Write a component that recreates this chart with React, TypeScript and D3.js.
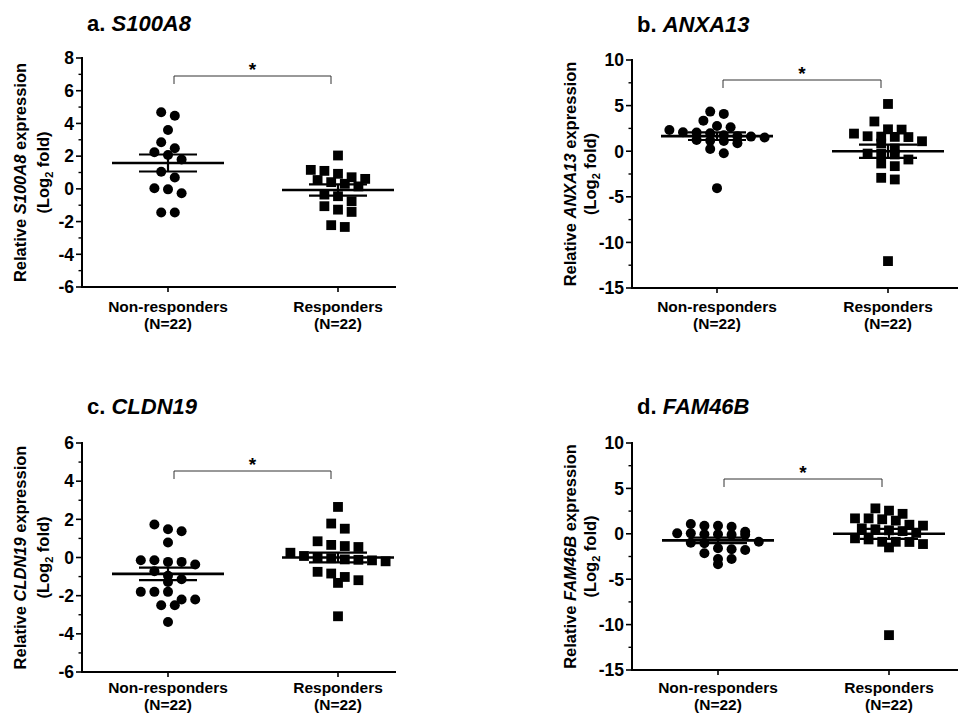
import React from 'react'
import * as d3 from 'd3'

// groups on the x axis
const groups = ['Non-responders', 'Responders']
const groupN = ['(N=22)', '(N=22)']

// per-sample log2 fold values
const s100a8Non = [4.68, 4.47, 3.6, 2.85, 2.48, 2.24, 2.07, 1.79, 1.05, 0.69, 0.04, -0.03, -0.27, -1.45, -1.45]
const s100a8Resp = [2.04, 1.16, 1.1, 0.92, 0.71, 0.61, 0.54, 0.41, 0.31, 0.15, -0.35, -0.45, -0.76, -1.06, -1.27, -1.41, -2.22, -2.33]
const anxa13Non = [4.34, 4.09, 3.35, 2.77, 2.63, 2.33, 2.08, 2.04, 1.97, 1.75, 1.65, 1.6, 1.5, 1.24, 1.16, 1.13, 0.88, 0.25, -0.22, -4.05]
const anxa13Resp = [5.18, 3.26, 2.4, 2.37, 1.93, 1.64, 1.6, 1.57, 1.55, 1.09, 0.84, 0.3, -0.26, -0.3, -0.36, -0.91, -1.35, -1.64, -2.92, -3.1, -12.05]
const cldn19Non = [1.73, 1.48, 1.38, 0.79, -0.14, -0.14, -0.23, -0.23, -0.37, -0.72, -0.96, -1.14, -1.28, -1.8, -1.8, -1.8, -2.2, -2.2, -2.5, -2.5, -3.38]
const cldn19Resp = [2.65, 1.78, 1.51, 0.85, 0.66, 0.6, 0.55, 0.25, 0.08, 0.0, -0.04, -0.1, -0.12, -0.15, -0.2, -0.75, -0.84, -1.02, -1.19, -1.33, -3.08]
const fam46bNon = [1.08, 0.89, 0.89, 0.78, 0.23, 0.05, -0.05, -0.1, -0.1, -0.05, 0.05, -0.87, -0.98, -1.05, -1.6, -1.71, -1.78, -2.15, -2.78, -2.78, -3.36]
const fam46bResp = [2.8, 2.55, 2.2, 1.7, 1.7, 1.6, 1.45, 1.0, 0.9, 0.6, 0.5, 0.38, 0.3, 0.1, -0.5, -0.62, -0.88, -0.88, -0.9, -1.13, -1.5, -11.16]

// group mean and SEM [non-responders, responders]
const s100a8Mean = [1.58, -0.07]
const s100a8Sem = [0.52, 0.34]
const anxa13Mean = [1.65, 0.0]
const anxa13Sem = [0.42, 0.73]
const cldn19Mean = [-0.86, 0.0]
const cldn19Sem = [0.33, 0.26]
const fam46bMean = [-0.72, 0.0]
const fam46bSem = [0.3, 0.55]

// y tick labels
const ticksSmall = [-6, -4, -2, 0, 2, 4, 6, 8]
const ticksSmallC = [-6, -4, -2, 0, 2, 4, 6]
const ticksWide = [-15, -10, -5, 0, 5, 10]

const FONT = '"Liberation Sans", Arial, Helvetica, sans-serif'

const panels = [
  { letter: 'a.', gene: 'S100A8', non: s100a8Non, resp: s100a8Resp, mean: s100a8Mean, sem: s100a8Sem, ticks: ticksSmall, minor: 1,
    axisX: 82, yTop: 58, yBot: 287, xEnd: 396, cat: [168, 338], titleX: 87, titleY: 30.5, labelX: [20, 43.5], bracketY: 76, catY: [25, 42] },
  { letter: 'b.', gene: 'ANXA13', non: anxa13Non, resp: anxa13Resp, mean: anxa13Mean, sem: anxa13Sem, ticks: ticksWide, minor: 2.5,
    axisX: 632, yTop: 60, yBot: 288, xEnd: 958, cat: [717, 888], titleX: 637, titleY: 31.5, labelX: [570, 590.5], bracketY: 80, catY: [24, 41] },
  { letter: 'c.', gene: 'CLDN19', non: cldn19Non, resp: cldn19Resp, mean: cldn19Mean, sem: cldn19Sem, ticks: ticksSmallC, minor: 1,
    axisX: 82, yTop: 443, yBot: 672, xEnd: 396, cat: [168, 338], titleX: 87, titleY: 413.5, labelX: [20, 43.5], bracketY: 471, catY: [21, 38] },
  { letter: 'd.', gene: 'FAM46B', non: fam46bNon, resp: fam46bResp, mean: fam46bMean, sem: fam46bSem, ticks: ticksWide, minor: 2.5,
    axisX: 632, yTop: 443, yBot: 670, xEnd: 958, cat: [718, 889], titleX: 637, titleY: 413.5, labelX: [570, 590.5], bracketY: 479, catY: [23, 40] },
]

// GraphPad-like scatter: bin close values into rows, centre each row
function swarm (values: number[], y: d3.ScaleLinear<number, number>, cx: number) {
  const rowH = 9
  const step = 13.6
  const pts = values.map(v => ({ v, py: y(v), px: cx })).sort((a, b) => a.py - b.py)
  const rows: typeof pts[] = []
  pts.forEach(p => {
    const last = rows[rows.length - 1]
    if (last && p.py - last[0].py < rowH) last.push(p)
    else rows.push([p])
  })
  rows.forEach(r => r.forEach((p, i) => { p.px = cx + (i - (r.length - 1) / 2) * step }))
  return pts
}

function Panel ({ p }: { p: typeof panels[0] }) {
  const ext = d3.extent(p.ticks) as [number, number]
  const y = d3.scaleLinear().domain(ext).range([p.yBot, p.yTop])
  const x = d3.scalePoint<string>().domain(groups).range(p.cat as [number, number])
  const minors = d3.range(ext[0], ext[1] + 0.001, p.minor).filter(v => !p.ticks.includes(v))
  const series = [p.non, p.resp]
  const midY = (p.yTop + p.yBot) / 2
  const bx0 = x(groups[0])! + 6
  const bx1 = x(groups[1])! - 7

  return (
    <g>
      <text x={p.titleX} y={p.titleY} fontSize={22} fontWeight='bold'>
        {p.letter} <tspan fontStyle='italic'>{p.gene}</tspan>
      </text>

      {/* y axis */}
      <line x1={p.axisX} x2={p.axisX} y1={p.yTop - 1} y2={p.yBot} stroke='#000' strokeWidth={2} />
      {p.ticks.map(t => (
        <g key={t}>
          <line x1={p.axisX - 6} x2={p.axisX} y1={y(t)} y2={y(t)} stroke='#000' strokeWidth={1.6} />
          <text x={p.axisX - 8} y={y(t)} dy='0.36em' textAnchor='end' fontSize={17.5} fontWeight='bold'>{t}</text>
        </g>
      ))}
      {minors.map(t => (
        <line key={t} x1={p.axisX - 3.5} x2={p.axisX} y1={y(t)} y2={y(t)} stroke='#000' strokeWidth={1.4} />
      ))}

      {/* x axis */}
      <line x1={p.axisX - 1} x2={p.xEnd} y1={p.yBot} y2={p.yBot} stroke='#000' strokeWidth={2} />
      {groups.map((g, i) => (
        <g key={g}>
          <line x1={x(g)} x2={x(g)} y1={p.yBot} y2={p.yBot + 5} stroke='#000' strokeWidth={1.6} />
          <text x={x(g)} y={p.yBot + p.catY[0]} textAnchor='middle' fontSize={15.5} fontWeight='bold'>{g}</text>
          <text x={x(g)} y={p.yBot + p.catY[1]} textAnchor='middle' fontSize={15.5} fontWeight='bold'>{groupN[i]}</text>
        </g>
      ))}

      {/* y label */}
      <text transform={`translate(${p.labelX[0]},${midY}) rotate(-90)`} textAnchor='middle' dy='0.35em' fontSize={16.5} fontWeight='bold'>
        Relative <tspan fontStyle='italic'>{p.gene}</tspan> expression
      </text>
      <text transform={`translate(${p.labelX[1]},${midY}) rotate(-90)`} textAnchor='middle' dy='0.35em' fontSize={16.5} fontWeight='bold'>
        (Log<tspan fontSize={11} dy='4'>2</tspan><tspan dy='-4'> fold)</tspan>
      </text>

      {/* significance bracket */}
      <path d={`M${bx0},${p.bracketY + 8}V${p.bracketY}H${bx1}V${p.bracketY + 8}`} fill='none' stroke='#333' strokeWidth={1} />
      <text x={(bx0 + bx1) / 2} y={p.bracketY} textAnchor='middle' fontSize={19} fontWeight='bold'>*</text>

      {/* points */}
      {series.map((vals, gi) => swarm(vals, y, x(groups[gi])!).map((pt, k) => (
        gi === 0
          ? <circle key={`${gi}-${k}`} cx={pt.px} cy={pt.py} r={5} fill='#000' />
          : <rect key={`${gi}-${k}`} x={pt.px - 4.9} y={pt.py - 4.9} width={9.8} height={9.8} fill='#000' />
      )))}

      {/* mean and SEM */}
      {groups.map((g, i) => {
        const cx = x(g)!
        const m = y(p.mean[i])
        const hi = y(p.mean[i] + p.sem[i])
        const lo = y(p.mean[i] - p.sem[i])
        return (
          <g key={g} stroke='#000'>
            <line x1={cx - 56} x2={cx + 56} y1={m} y2={m} strokeWidth={2.6} />
            <line x1={cx - 29} x2={cx + 29} y1={hi} y2={hi} strokeWidth={2.2} />
            <line x1={cx - 29} x2={cx + 29} y1={lo} y2={lo} strokeWidth={2.2} />
            <line x1={cx} x2={cx} y1={hi} y2={lo} strokeWidth={2.2} />
          </g>
        )
      })}
    </g>
  )
}

export default function App () {
  return (
    <svg width={963} height={715} style={{ position: 'absolute', left: 0, top: 0, background: '#fff' }} fontFamily={FONT}>
      <rect width={963} height={715} fill='#fff' />
      {panels.map(p => <Panel key={p.gene} p={p} />)}
    </svg>
  )
}
